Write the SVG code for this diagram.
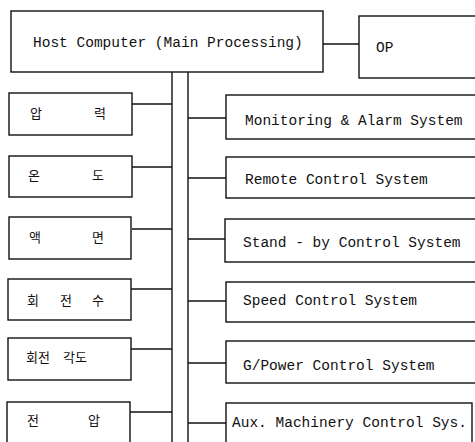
<svg xmlns="http://www.w3.org/2000/svg" width="475" height="442" viewBox="0 0 475 442">
<style>
.box{fill:#fff;stroke:#111;stroke-width:1.4}
.ln{stroke:#111;stroke-width:1.4;fill:none}
.t{font-family:"Liberation Mono","DejaVu Sans Mono",monospace;font-size:14.5px;fill:#111}
.k{font-family:"Noto Sans CJK KR","Noto Sans",sans-serif;font-size:13px;fill:#111}
</style>
<rect width="475" height="442" fill="#fff"/>
<g id="connectors">
<line class="ln" x1="172" y1="72" x2="172" y2="442"/>
<line class="ln" x1="188" y1="72" x2="188" y2="442"/>
<line class="ln" x1="323" y1="44" x2="359" y2="44"/>
<line class="ln" x1="132" y1="104" x2="172" y2="104"/>
<line class="ln" x1="132" y1="167" x2="172" y2="167"/>
<line class="ln" x1="132" y1="229" x2="172" y2="229"/>
<line class="ln" x1="131" y1="289" x2="172" y2="289"/>
<line class="ln" x1="131" y1="349" x2="172" y2="349"/>
<line class="ln" x1="130" y1="412" x2="172" y2="412"/>
<line class="ln" x1="188" y1="118" x2="226" y2="118"/>
<line class="ln" x1="188" y1="178" x2="226" y2="178"/>
<line class="ln" x1="188" y1="239" x2="225" y2="239"/>
<line class="ln" x1="188" y1="301" x2="226" y2="301"/>
<line class="ln" x1="188" y1="363" x2="226" y2="363"/>
<line class="ln" x1="188" y1="423" x2="226" y2="423"/>
</g>
<g id="host"><rect class="box" x="11" y="11" width="312" height="61"/><text class="t" x="33" y="47">Host Computer (Main Processing)</text></g>
<g id="op"><rect class="box" x="359" y="16" width="120" height="62"/><text class="t" x="376" y="52">OP</text></g>
<g id="n1"><rect class="box" x="9" y="93" width="123" height="42"/><text class="k" x="30" y="118">압</text><text class="k" x="94" y="118">력</text></g>
<g id="n2"><rect class="box" x="9" y="156" width="123" height="41"/><text class="k" x="28" y="180">온</text><text class="k" x="92" y="180">도</text></g>
<g id="n3"><rect class="box" x="9" y="217" width="122" height="42"/><text class="k" x="29" y="242">액</text><text class="k" x="92" y="242">면</text></g>
<g id="n4"><rect class="box" x="8" y="279" width="123" height="41"/><text class="k" x="27" y="305">회</text><text class="k" x="60" y="305">전</text><text class="k" x="92" y="305">수</text></g>
<g id="n5"><rect class="box" x="8" y="338" width="123" height="42"/><text class="k" x="26" y="362">회전</text><text class="k" x="63" y="362">각도</text></g>
<g id="n6"><rect class="box" x="7" y="402" width="123" height="44"/><text class="k" x="27" y="425">전</text><text class="k" x="88" y="425">압</text></g>
<g id="r1"><rect class="box" x="226" y="95" width="252" height="44"/><text class="t" x="245" y="125">Monitoring &amp; Alarm System</text></g>
<g id="r2"><rect class="box" x="226" y="157" width="252" height="41"/><text class="t" x="245" y="184">Remote Control System</text></g>
<g id="r3"><rect class="box" x="225" y="219" width="253" height="43"/><text class="t" x="243" y="247">Stand - by Control System</text></g>
<g id="r4"><rect class="box" x="226" y="282" width="252" height="40"/><text class="t" x="243" y="305">Speed Control System</text></g>
<g id="r5"><rect class="box" x="226" y="341" width="252" height="42"/><text class="t" x="243" y="370">G/Power Control System</text></g>
<g id="r6"><rect class="box" x="226" y="403" width="246" height="44"/><text class="t" x="232" y="427">Aux. Machinery Control Sys.</text></g>
</svg>
